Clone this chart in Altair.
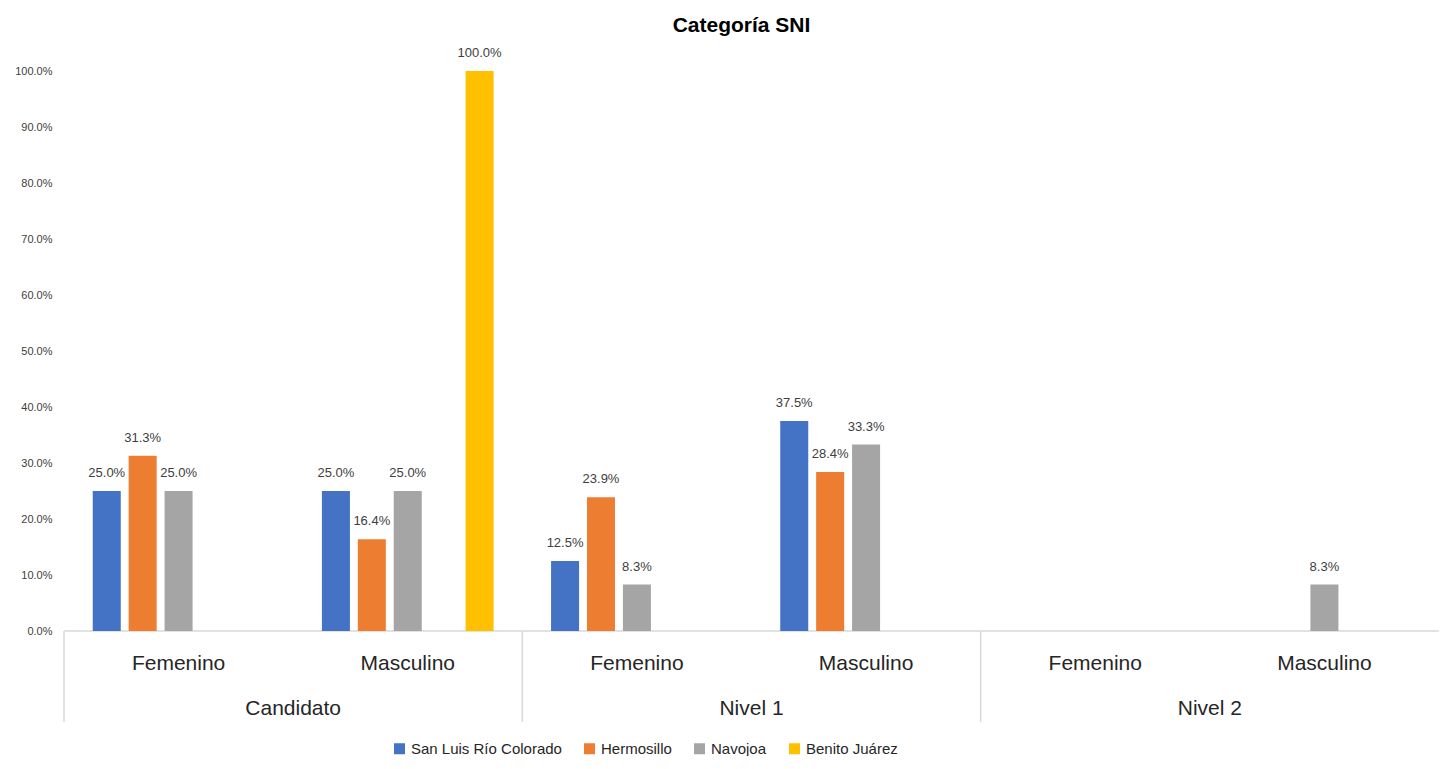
import altair as alt
import pandas as pd

# ---- data ----
title_text = "Categoría SNI"
groups = ["Candidato", "Nivel 1", "Nivel 2"]
genders = ["Femenino", "Masculino"]
series = ["San Luis Río Colorado", "Hermosillo", "Navojoa", "Benito Juárez"]
colors = ["#4472C4", "#ED7D31", "#A5A5A5", "#FFC000"]
# values per series, in order: Candidato F, Candidato M, Nivel1 F, Nivel1 M, Nivel2 F, Nivel2 M
slrc = [25.0, 25.0, 12.5, 37.5, None, None]
herm = [31.3, 16.4, 23.9, 28.4, None, None]
nav = [25.0, 25.0, 8.3, 33.3, None, 8.3]
bj = [None, 100.0, None, None, None, None]
yticks = [0, 10, 20, 30, 40, 50, 60, 70, 80, 90, 100]

keys = [f"{g}|{s}" for g in groups for s in genders]
offset_domain = ["San Luis Río Colorado", "Hermosillo", "Navojoa", "(vacío)", "Benito Juárez"]

rows = []
for name, vals in zip(series, [slrc, herm, nav, bj]):
    for k, v in zip(keys, vals):
        if v is not None:
            rows.append({"key": k, "serie": name, "value": v})
df = pd.DataFrame(rows)

sub_df = pd.DataFrame({"key": keys, "label": [k.split("|")[1] for k in keys]})
grp_df = pd.DataFrame({"key": [f"{g}|Masculino" for g in groups], "label": groups})
sep_df = pd.DataFrame({"key": [f"{g}|Femenino" for g in groups]})

W, H = 1375, 560
FONT = "Liberation Sans"

xscale = alt.Scale(domain=keys, paddingInner=0, paddingOuter=0)
X = alt.X("key:N", scale=xscale, axis=None)
XO = alt.XOffset("serie:N", scale=alt.Scale(domain=offset_domain, paddingInner=0.22, paddingOuter=0.8))
Y = alt.Y("value:Q", scale=alt.Scale(domain=[0, 100]),
          axis=alt.Axis(values=yticks, labelExpr="format(datum.value,'.1f')+'%'",
                        domain=False, ticks=False, grid=False, labelFontSize=11,
                        labelFont=FONT, labelColor="#404040", labelPadding=12, title=None))

bars = alt.Chart(df).mark_bar().encode(
    x=X, xOffset=XO, y=Y,
    color=alt.Color("serie:N", scale=alt.Scale(domain=series, range=colors),
                    legend=alt.Legend(title=None, orient="none", legendX=328, legendY=670,
                                      direction="horizontal", symbolType="square",
                                      symbolSize=121, symbolStrokeWidth=0,
                                      labelFont=FONT, labelFontSize=15,
                                      labelColor="#262626", labelOffset=4, columnPadding=20,
                                      labelLimit=400)),
)

labels = alt.Chart(df).transform_calculate(
    txt="format(datum.value,'.1f') + '%'"
).mark_text(font=FONT, fontSize=13, color="#404040", baseline="alphabetic", dy=-14).encode(
    x=X, xOffset=XO, y=alt.Y("value:Q"), text="txt:N"
)

sub_text = alt.Chart(sub_df).mark_text(font=FONT, fontSize=21, color="#262626",
                                       baseline="alphabetic").encode(
    x=alt.X("key:N", scale=xscale, axis=None), y=alt.value(H + 39), text="label:N"
)

grp_text = alt.Chart(grp_df).mark_text(font=FONT, fontSize=21, color="#262626",
                                       baseline="alphabetic").encode(
    x=alt.X("key:N", scale=xscale, axis=None, bandPosition=0), y=alt.value(H + 84), text="label:N"
)

seps = alt.Chart(sep_df).mark_rule(color="#D9D9D9", strokeWidth=1.5).encode(
    x=alt.X("key:N", scale=xscale, axis=None, bandPosition=0),
    y=alt.value(H), y2=alt.value(H + 91)
)

baseline = alt.Chart(alt.Data(values=[{}])).mark_rule(color="#D9D9D9", strokeWidth=1.5).encode(
    x=alt.value(0), x2=alt.value(W), y=alt.value(H)
)

title = alt.Chart(alt.Data(values=[{"t": title_text}])).mark_text(
    font=FONT, fontSize=21, fontWeight="bold", color="#000000", baseline="alphabetic", align="center"
).encode(x=alt.value(677.5), y=alt.value(-39), text="t:N")

chart = alt.layer(baseline, seps, bars, labels, sub_text, grp_text, title).properties(
    width=W, height=H,
    autosize=alt.AutoSizeParams(type="none"),
    padding={"left": 56, "top": 63, "right": 0, "bottom": 125},
).configure(background="white").configure_view(stroke=None)

chart.save("out.html", embed_options={"renderer": "svg", "actions": False})
